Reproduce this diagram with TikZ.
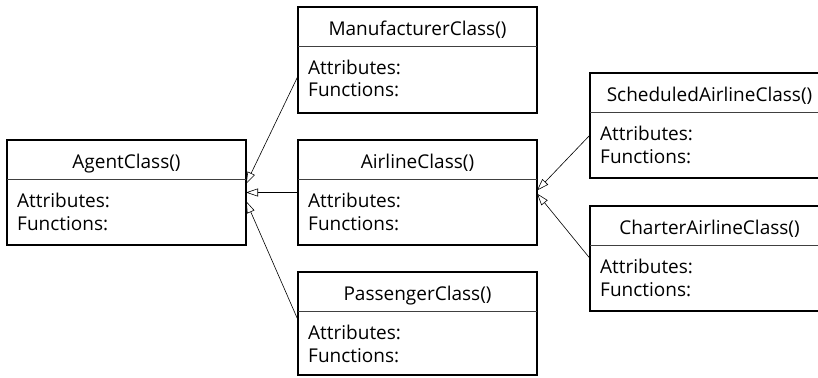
\documentclass[tikz,border=0pt]{standalone}
\usepackage{fontspec}
\setmainfont{Open Sans}
\usetikzlibrary{arrows.meta}
\tikzset{
  classbox/.style={draw, line width=1.6pt, minimum width=239pt, inner sep=0pt, outer sep=0pt, anchor=north west},
  divline/.style={line width=0.6pt, black!75},
  titletext/.style={font=\fontsize{19}{23}\selectfont, inner sep=0pt, anchor=base},
  bodytext/.style={font=\fontsize{19}{23}\selectfont, inner sep=0pt, anchor=base west},
  inherit/.style={line width=0.6pt, -{Triangle[open, length=12pt, width=8pt, line width=0.6pt]}},
}
\newcommand\umlclass[5]{%
  \node[classbox, minimum height=#4pt] (#1) at (#2,#3) {};
  \draw[divline] ([yshift=-39pt]#1.north west) -- ([yshift=-39pt]#1.north east);
  \node[titletext] (#1-title) at ([yshift=-28.5pt]#1.north) {#5};
  \node[bodytext] (#1-attr) at ([xshift=10pt,yshift=-67.5pt]#1.north west) {Attributes:};
  \node[bodytext] (#1-func) at ([xshift=10pt,yshift=-90pt]#1.north west) {Functions:};
}
\begin{document}
\begin{tikzpicture}[x=1pt,y=-1pt]
\useasboundingbox (0,0) rectangle (818,377);
\clip (0,0) rectangle (818,377);
\umlclass{agent}{7}{140}{105}{AgentClass()}
\umlclass{manu}{298}{7}{106}{ManufacturerClass()}
\umlclass{airline}{298}{140}{105}{AirlineClass()}
\umlclass{passenger}{298}{272}{103}{PassengerClass()}
\umlclass{sched}{590}{73}{105}{ScheduledAirlineClass()}
\umlclass{charter}{590}{206}{105}{CharterAirlineClass()}
\draw[inherit] ([yshift=-16pt]manu.west) -- ([yshift=8.5pt]agent.east);
\draw[inherit] (airline.west) -- (agent.east);
\draw[inherit] ([yshift=3.5pt]passenger.west) -- ([yshift=-8.5pt]agent.east);
\draw[inherit] ([yshift=-9.5pt]sched.west) -- ([yshift=2pt]airline.east);
\draw[inherit] (charter.west) -- ([yshift=-1pt]airline.east);
\end{tikzpicture}
\end{document}
